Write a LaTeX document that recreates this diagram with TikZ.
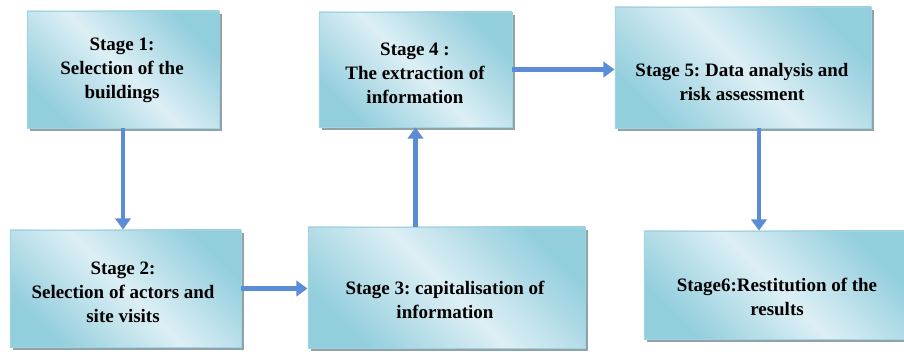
\documentclass[tikz,border=0pt]{standalone}
\usepackage{fontspec}
\setmainfont{Liberation Serif}
\frenchspacing
\usetikzlibrary{calc, arrows.meta, shadows}
\definecolor{boxdark}{HTML}{93CEDD}
\definecolor{boxlight}{HTML}{DDEFF5}
\definecolor{boxline}{HTML}{A3D3E0}
\definecolor{boxshadow}{HTML}{8FA3A9}
\definecolor{flowblue}{HTML}{5A8DD6}

\begin{document}
\begin{tikzpicture}[x=0.025cm, y=-0.025cm,
    stagebox/.style={draw=boxline, line width=0.6pt, shading=axis, top color=boxdark, bottom color=boxdark, middle color=boxlight, shading angle=-45, drop shadow={shadow xshift=2.1pt, shadow yshift=-2.1pt, fill=boxshadow, opacity=1}, inner sep=0pt},
    stagetext/.style={font=\bfseries\fontsize{13.5}{17}\selectfont, align=center, inner sep=0pt},
    flow/.style={draw=flowblue, line width=3.2pt, -{Triangle[width=11pt, length=8pt]}}]
    \useasboundingbox (0,0) rectangle (904,351);
    % boxes
    \node[stagebox, minimum width=4.8cm, minimum height=2.925cm] (stageone) at (123,69.5) {};
    \node[stagebox, minimum width=5.775cm, minimum height=2.925cm] (stagetwo) at (125.5,288.5) {};
    \node[stagebox, minimum width=6.925cm, minimum height=3.025cm] (stagethree) at (446.5,287.5) {};
    \node[stagebox, minimum width=4.825cm, minimum height=2.875cm] (stagefour) at (415.5,69.5) {};
    \node[stagebox, minimum width=6.4cm, minimum height=3.025cm] (stagefive) at (743,67.5) {};
    \node[stagebox, minimum width=6.55cm, minimum height=2.7cm] (stagesix) at (775,285) {};
    % texts
    \node[stagetext] (textone) at (122,70) {Stage 1:\\Selection of the\\buildings};
    \node[stagetext] (texttwo) at (123,292) {Stage 2:\\Selection of actors and\\site visits};
    \node[stagetext] (textthree) at (445,300) {Stage 3: capitalisation of\\information};
    \node[stagetext] (textfour) at (415,73) {Stage 4 :\\The extraction of\\information};
    \node[stagetext] (textfive) at (742,82) {Stage 5: Data analysis and\\risk assessment};
    \node[stagetext] (textsix) at (777,297) {Stage6:Restitution of the\\results};
    % arrows
    \coordinate (fivedown) at ($(stagefive.south)+(16,0)$);
    \draw[flow] (stageone.south) -- (stageone.south |- stagetwo.north);
    \draw[flow] (stagetwo.east) -- (stagetwo.east -| stagethree.west);
    \draw[flow] (stagethree.north -| stagefour.south) -- (stagefour.south);
    \draw[flow] (stagefour.east) -- (stagefour.east -| stagefive.west);
    \draw[flow] (fivedown) -- (fivedown |- stagesix.north);
\end{tikzpicture}
\end{document}
